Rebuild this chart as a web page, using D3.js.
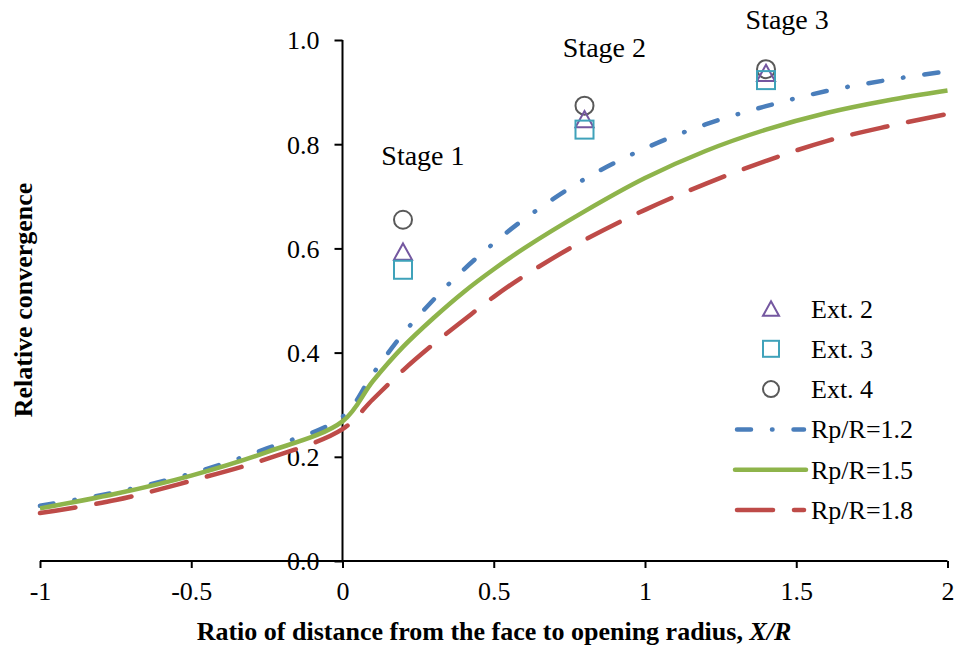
<!DOCTYPE html>
<html>
<head>
<meta charset="utf-8">
<script src="https://cdn.jsdelivr.net/npm/d3@7"></script>
<style>
  html, body { margin: 0; padding: 0; background: #fff; }
  svg { display: block; }
  text { font-family: "Liberation Serif", "Times New Roman", Times, serif; fill: #000; }
</style>
</head>
<body>
<svg id="chart" width="956" height="646"></svg>
<script>
// Ratio X/R at which the model curves are sampled
const xr = [-1, -0.75, -0.5, -0.25, 0, 0.1, 0.2, 0.3, 0.4, 0.5, 0.6, 0.8, 1.0, 1.2, 1.4, 1.6, 1.8, 2.0];
// Longitudinal displacement profiles for three plastic-radius ratios
const rp12 = [0.106, 0.132, 0.168, 0.216, 0.277, 0.359, 0.436, 0.501, 0.559, 0.610, 0.656, 0.733, 0.792, 0.838, 0.873, 0.902, 0.923, 0.940];
const rp15 = [0.101, 0.129, 0.164, 0.209, 0.268, 0.345, 0.411, 0.466, 0.516, 0.560, 0.600, 0.671, 0.735, 0.787, 0.828, 0.860, 0.884, 0.903];
const rp18 = [0.092, 0.117, 0.154, 0.196, 0.253, 0.310, 0.366, 0.416, 0.462, 0.507, 0.547, 0.616, 0.674, 0.724, 0.768, 0.806, 0.834, 0.858];

// Measured convergence at the three excavation stages
const stageX = [0.2, 0.8, 1.4];
const ext2 = [0.594, 0.848, 0.937];
const ext3 = [0.559, 0.828, 0.923];
const ext4 = [0.655, 0.874, 0.944];

// Stage annotations (centre x, baseline y in data units)
const stageLabels = ["Stage 1", "Stage 2", "Stage 3"];
const stageLabelX = [0.266, 0.866, 1.47];
const stageLabelY = [0.761, 0.968, 1.022];

// Axis ticks
const xTicks = [-1, -0.5, 0, 0.5, 1, 1.5, 2];
const xTickLabels = ["-1", "-0.5", "0", "0.5", "1", "1.5", "2"];
const yTicks = [0, 0.2, 0.4, 0.6, 0.8, 1.0];
const yTickLabels = ["0.0", "0.2", "0.4", "0.6", "0.8", "1.0"];

const svg = d3.select("#chart");
const x = d3.scaleLinear().domain([-1, 2]).range([40, 947.5]);
const y = d3.scaleLinear().domain([0, 1]).range([561, 40]);

const colors = {
  blue: "#4A7EBB", green: "#8EB44B", red: "#BE4B48",
  purple: "#7457A0", teal: "#3FA2BA", grey: "#595959"
};
const dashDot = "14 21 0.5 21";
const longDash = "36 21";

// Axes
const xAxis = d3.axisBottom(x).tickValues(xTicks).tickSize(7).tickFormat((d, i) => xTickLabels[i]);
const yAxis = d3.axisLeft(y).tickValues(yTicks).tickSize(8).tickFormat((d, i) => yTickLabels[i]);

const gx = svg.append("g").attr("transform", `translate(0,${y(0)})`).call(xAxis);
const gy = svg.append("g").attr("transform", `translate(${x(0)},0)`).call(yAxis);
[gx, gy].forEach(g => {
  g.select(".domain").attr("stroke", "#000").attr("stroke-width", 2);
  g.selectAll(".tick line").attr("stroke", "#000").attr("stroke-width", 2);
  g.selectAll(".tick text").style("font-family", '"Liberation Serif", "Times New Roman", serif').style("font-size", "26px").attr("fill", "#000");
});
gx.selectAll(".domain").attr("d", `M${x(-1)},0H${x(2)}`);
gx.selectAll(".tick text").attr("y", 21).attr("dy", "0.71em");
gy.selectAll(".domain").attr("d", `M0,${y(1)}V${y(0)}`);
gy.selectAll(".tick text").attr("x", -23).attr("dy", "0.34em");

// Axis titles
svg.append("text")
  .attr("x", 494).attr("y", 640)
  .attr("text-anchor", "middle")
  .style("font-size", "26px").style("font-weight", "bold")
  .call(t => {
    t.append("tspan").text("Ratio of distance from the face to opening radius, ");
    t.append("tspan").style("font-style", "italic").text("X/R");
  });
svg.append("text")
  .attr("transform", "translate(32,300) rotate(-90)")
  .attr("text-anchor", "middle")
  .style("font-size", "26px").style("font-weight", "bold")
  .text("Relative convergence");

// Model curves (smoothed through the sampled points)
const series = [
  { name: "Rp/R=1.2", values: rp12, color: colors.blue, dash: dashDot },
  { name: "Rp/R=1.5", values: rp15, color: colors.green, dash: null },
  { name: "Rp/R=1.8", values: rp18, color: colors.red, dash: longDash }
];
const line = d3.line().x(d => x(d[0])).y(d => y(d[1])).curve(d3.curveCatmullRom.alpha(0.5));
series.forEach(s => {
  svg.append("path")
    .datum(xr.map((v, i) => [v, s.values[i]]))
    .attr("d", line)
    .attr("fill", "none")
    .attr("stroke", s.color)
    .attr("stroke-width", 4.5)
    .attr("stroke-linecap", s.dash ? "round" : "butt")
    .attr("stroke-dasharray", s.dash);
});

// Marker shapes
function drawTriangle(g, cx, cy, w) {
  const h = w * 0.9;
  g.append("path")
    .attr("d", `M${cx},${cy - h / 2}L${cx + w / 2},${cy + h / 2}L${cx - w / 2},${cy + h / 2}Z`)
    .attr("fill", "none").attr("stroke", colors.purple).attr("stroke-width", 2);
}
function drawSquare(g, cx, cy, w) {
  g.append("rect")
    .attr("x", cx - w / 2).attr("y", cy - w / 2).attr("width", w).attr("height", w)
    .attr("fill", "none").attr("stroke", colors.teal).attr("stroke-width", 2);
}
function drawCircle(g, cx, cy, w) {
  g.append("circle")
    .attr("cx", cx).attr("cy", cy).attr("r", w / 2)
    .attr("fill", "none").attr("stroke", colors.grey).attr("stroke-width", 2);
}

const markers = svg.append("g");
stageX.forEach((sx, i) => drawCircle(markers, x(sx), y(ext4[i]), 18));
stageX.forEach((sx, i) => drawTriangle(markers, x(sx), y(ext2[i]), 18));
stageX.forEach((sx, i) => drawSquare(markers, x(sx), y(ext3[i]), 18));

// Stage annotations
svg.append("g").selectAll("text")
  .data(stageLabels)
  .join("text")
  .attr("x", (d, i) => x(stageLabelX[i]))
  .attr("y", (d, i) => y(stageLabelY[i]))
  .attr("text-anchor", "middle")
  .style("font-size", "28px")
  .text(d => d);

// Legend
const legend = svg.append("g");
const legendRows = [
  { label: "Ext. 2", kind: "tri" },
  { label: "Ext. 3", kind: "sq" },
  { label: "Ext. 4", kind: "circ" },
  { label: "Rp/R=1.2", kind: "line", s: series[0] },
  { label: "Rp/R=1.5", kind: "line", s: series[1] },
  { label: "Rp/R=1.8", kind: "line", s: series[2] }
];
legendRows.forEach((r, i) => {
  const cy = 308.5 + i * 40.3;
  if (r.kind === "tri") drawTriangle(legend, 771, cy, 16);
  if (r.kind === "sq") drawSquare(legend, 771, cy, 16);
  if (r.kind === "circ") drawCircle(legend, 771, cy, 16);
  if (r.kind === "line") {
    legend.append("line")
      .attr("x1", r.s.dash ? 737 : 735).attr("x2", r.s.dash ? 804 : 806)
      .attr("y1", cy).attr("y2", cy)
      .attr("stroke", r.s.color).attr("stroke-width", 4.5)
      .attr("stroke-linecap", "round")
      .attr("stroke-dasharray", r.s.dash);
  }
  legend.append("text")
    .attr("x", 811).attr("y", cy + 9)
    .style("font-size", "26px")
    .text(r.label);
});
</script>
</body>
</html>
